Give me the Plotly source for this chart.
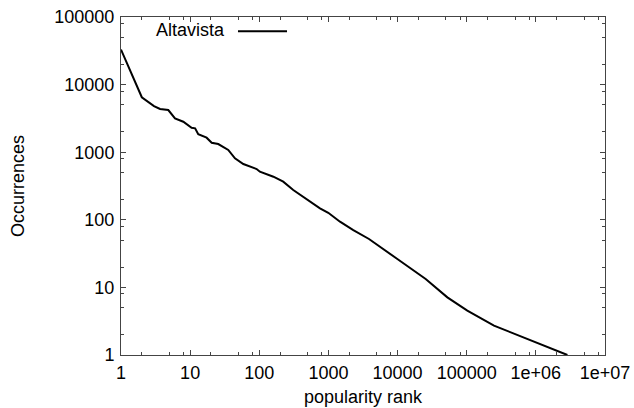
import plotly.graph_objects as go

# Data (rank vs occurrences, log-log)
rank = [1, 2, 3, 3.67, 4.83, 6.04, 7.96, 10.5, 11.8, 13.1, 17.3, 20.5, 25.5, 35.6, 44.5,
        58.8, 91.6, 102, 160, 222, 310, 485, 755, 995, 1470, 2290, 3860, 9930, 25500,
        52500, 102000, 248000, 754000, 2860000]
occurrences = [33000, 6500, 4820, 4355, 4210, 3170, 2826, 2300, 2254, 1840, 1640, 1380,
               1320, 1079, 813, 668, 564, 515, 434, 366, 276, 201, 148, 127, 93.7, 70.6,
               52, 26.3, 13.3, 7.13, 4.53, 2.72, 1.72, 1.0]

series_name = "Altavista"
x_title = "popularity rank"
y_title = "Occurrences"
x_tickvals = [1, 10, 100, 1000, 10000, 100000, 1e6, 1e7]
x_ticktext = ["1", "10", "100", "1000", "10000", "100000", "1e+06", "1e+07"]
y_tickvals = [1, 10, 100, 1000, 10000, 100000]
y_ticktext = ["1", "10", "100", "1000", "10000", "100000"]
x_minor = [m * 10 ** d for d in range(7) for m in (2, 5, 8)]
y_minor = [m * 10 ** d for d in range(5) for m in (2, 5, 8)]

FONT = "Liberation Sans, Arial, Helvetica, sans-serif"
FS = 18
AX = "#444444"

fig = go.Figure()
fig.add_trace(go.Scatter(x=rank, y=occurrences, mode="lines", name=series_name,
                         line=dict(color="black", width=2), showlegend=False))

common = dict(type="log", showgrid=False, zeroline=False, showline=True, linecolor=AX,
              linewidth=1, mirror="ticks", ticks="inside", ticklen=5, tickwidth=1,
              tickcolor=AX, automargin=False,
              tickfont=dict(family=FONT, size=FS, color="black"))

fig.update_xaxes(range=[0, 7], tickmode="array", tickvals=x_tickvals, ticktext=x_ticktext,
                 ticklabelstandoff=1,
                 minor=dict(tickmode="array", tickvals=x_minor, ticks="inside", ticklen=3,
                            tickcolor=AX, showgrid=False),
                 **common)
fig.update_yaxes(range=[0, 5], tickmode="array", tickvals=y_tickvals, ticktext=y_ticktext,
                 ticklabelstandoff=2,
                 minor=dict(tickmode="array", tickvals=y_minor, ticks="inside", ticklen=3,
                            tickcolor=AX, showgrid=False),
                 **common)

# axis titles
fig.add_annotation(x=0.5, y=-0.1568, xref="paper", yref="paper", text=x_title,
                   showarrow=False, xanchor="center", yanchor="bottom", borderpad=0,
                   font=dict(family=FONT, size=FS, color="black"))
fig.add_annotation(x=-0.2128, y=0.5, xref="paper", yref="paper", text=y_title,
                   showarrow=False, xanchor="center", yanchor="middle", textangle=-90,
                   font=dict(family=FONT, size=FS, color="black"))

# gnuplot-style key: text followed by line sample
fig.add_annotation(x=0.219, y=0.962, xref="paper", yref="paper", text=series_name,
                   showarrow=False, xanchor="right", yanchor="middle",
                   font=dict(family=FONT, size=FS, color="black"))
fig.add_shape(type="line", xref="paper", yref="paper", x0=0.2417, x1=0.343, y0=0.958, y1=0.958,
              line=dict(color="black", width=2))

fig.update_layout(width=634, height=408, margin=dict(l=121, r=29, t=17, b=53),
                  plot_bgcolor="white", paper_bgcolor="white",
                  font=dict(family=FONT, size=FS, color="black"))
fig.write_html("out.html")
